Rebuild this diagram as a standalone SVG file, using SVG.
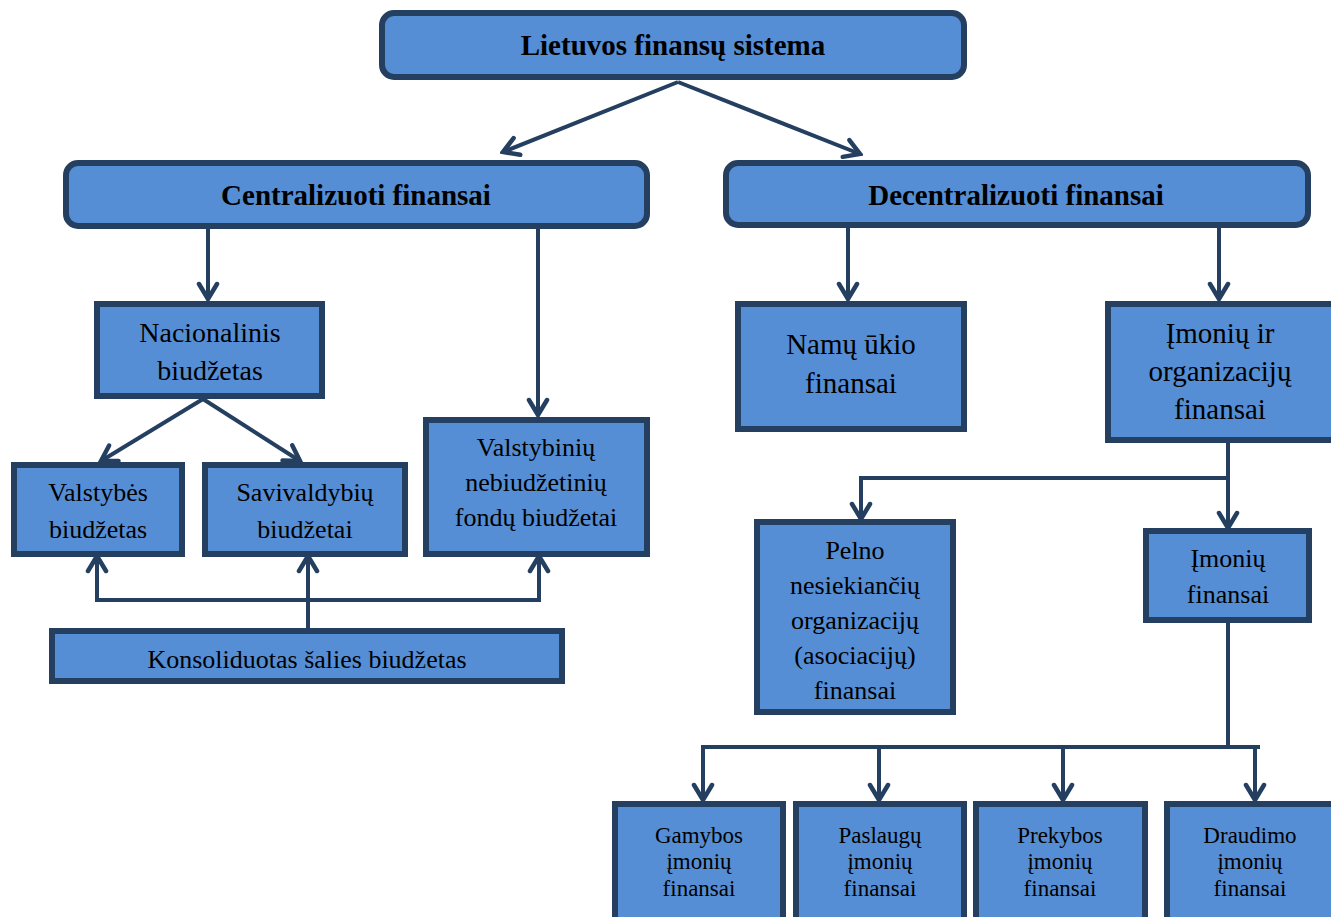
<svg xmlns="http://www.w3.org/2000/svg" width="1331" height="917" viewBox="0 0 1331 917">
<style>
.box{fill:#558ED5;stroke:#243F60;stroke-width:6}
.t{font-family:"Liberation Serif","Times New Roman",serif;fill:#000;text-anchor:middle}
.b{font-weight:bold;font-size:29px}
.c{stroke:#243F60;stroke-width:4;fill:none}
</style>
<defs>
<marker id="ah" viewBox="0 0 24 24" refX="21" refY="12" markerWidth="24" markerHeight="24" markerUnits="userSpaceOnUse" orient="auto">
<path d="M6,3 L21,12 L6,21" fill="none" stroke="#243F60" stroke-width="4.5" stroke-linecap="round" stroke-linejoin="miter"/>
</marker>
</defs>
<rect width="1331" height="917" fill="#fff"/>
<g id="connectors">
<line class="c" x1="678" y1="82" x2="503" y2="152" marker-end="url(#ah)"/>
<line class="c" x1="678" y1="82" x2="860" y2="154" marker-end="url(#ah)"/>
<line class="c" x1="208" y1="229" x2="208" y2="299" marker-end="url(#ah)"/>
<line class="c" x1="538" y1="229" x2="538" y2="415" marker-end="url(#ah)"/>
<line class="c" x1="848" y1="228" x2="848" y2="299" marker-end="url(#ah)"/>
<line class="c" x1="1219" y1="228" x2="1219" y2="299" marker-end="url(#ah)"/>
<line class="c" x1="203" y1="399" x2="101" y2="461" marker-end="url(#ah)"/>
<line class="c" x1="203" y1="399" x2="300" y2="461" marker-end="url(#ah)"/>
<line class="c" x1="95" y1="600" x2="541" y2="600"/>
<line class="c" x1="97" y1="600" x2="97" y2="556" marker-end="url(#ah)"/>
<line class="c" x1="539" y1="600" x2="539" y2="556" marker-end="url(#ah)"/>
<line class="c" x1="308" y1="628" x2="308" y2="556" marker-end="url(#ah)"/>
<line class="c" x1="1228" y1="443" x2="1228" y2="478"/>
<polyline class="c" points="1228,478 861,478 861,519" marker-end="url(#ah)"/>
<line class="c" x1="1228" y1="478" x2="1228" y2="528" marker-end="url(#ah)"/>
<line class="c" x1="1228" y1="623" x2="1228" y2="747"/>
<line class="c" x1="703" y1="747" x2="1260" y2="747"/>
<line class="c" x1="703" y1="745" x2="703" y2="800" marker-end="url(#ah)"/>
<line class="c" x1="879" y1="747" x2="879" y2="800" marker-end="url(#ah)"/>
<line class="c" x1="1063" y1="747" x2="1063" y2="800" marker-end="url(#ah)"/>
<line class="c" x1="1255" y1="747" x2="1255" y2="800" marker-end="url(#ah)"/>
</g>
<g id="n-root">
<rect class="box" x="382" y="13" width="582" height="64" rx="12"/>
<text class="t b" x="673" y="55">Lietuvos finansų sistema</text>
</g>
<g id="n-central">
<rect class="box" x="66" y="163" width="581" height="63" rx="12"/>
<text class="t b" x="356" y="205">Centralizuoti finansai</text>
</g>
<g id="n-decentral">
<rect class="box" x="726" y="163" width="582" height="62" rx="12"/>
<text class="t b" x="1016" y="205">Decentralizuoti finansai</text>
</g>
<g id="n-nacionalinis">
<rect class="box" x="97" y="304" width="225" height="92"/>
<text class="t" font-size="28" x="210" y="342">Nacionalinis</text>
<text class="t" font-size="28" x="210" y="380">biudžetas</text>
</g>
<g id="n-valstybes">
<rect class="box" x="14" y="465" width="168" height="89"/>
<text class="t" font-size="26" x="98" y="501">Valstybės</text>
<text class="t" font-size="26" x="98" y="538">biudžetas</text>
</g>
<g id="n-savivaldybiu">
<rect class="box" x="205" y="465" width="200" height="89"/>
<text class="t" font-size="26" x="305" y="501">Savivaldybių</text>
<text class="t" font-size="26" x="305" y="538">biudžetai</text>
</g>
<g id="n-fondu">
<rect class="box" x="426" y="420" width="221" height="134"/>
<text class="t" font-size="26" x="536" y="456">Valstybinių</text>
<text class="t" font-size="26" x="536" y="491">nebiudžetinių</text>
<text class="t" font-size="26" x="536" y="526">fondų biudžetai</text>
</g>
<g id="n-konsoliduotas">
<rect class="box" x="52" y="631" width="510" height="50"/>
<text class="t" font-size="26" x="307" y="668">Konsoliduotas šalies biudžetas</text>
</g>
<g id="n-namu">
<rect class="box" x="738" y="304" width="226" height="125"/>
<text class="t" font-size="29" x="851" y="354">Namų ūkio</text>
<text class="t" font-size="29" x="851" y="393">finansai</text>
</g>
<g id="n-imoniu-org">
<rect class="box" x="1108" y="304" width="240" height="136"/>
<text class="t" font-size="29" x="1220" y="343">Įmonių ir</text>
<text class="t" font-size="29" x="1220" y="381">organizacijų</text>
<text class="t" font-size="29" x="1220" y="419">finansai</text>
</g>
<g id="n-pelno">
<rect class="box" x="757" y="522" width="196" height="190"/>
<text class="t" font-size="26" x="855" y="559">Pelno</text>
<text class="t" font-size="26" x="855" y="594">nesiekiančių</text>
<text class="t" font-size="26" x="855" y="629">organizacijų</text>
<text class="t" font-size="26" x="855" y="664">(asociacijų)</text>
<text class="t" font-size="26" x="855" y="699">finansai</text>
</g>
<g id="n-imoniu">
<rect class="box" x="1146" y="531" width="163" height="89"/>
<text class="t" font-size="26" x="1228" y="567">Įmonių</text>
<text class="t" font-size="26" x="1228" y="603">finansai</text>
</g>
<g id="n-gamybos">
<rect class="box" x="615" y="804" width="168" height="130"/>
<text class="t" font-size="23" x="699" y="843">Gamybos</text>
<text class="t" font-size="23" x="699" y="869">įmonių</text>
<text class="t" font-size="23" x="699" y="896">finansai</text>
</g>
<g id="n-paslaugu">
<rect class="box" x="796" y="804" width="168" height="130"/>
<text class="t" font-size="23" x="880" y="843">Paslaugų</text>
<text class="t" font-size="23" x="880" y="869">įmonių</text>
<text class="t" font-size="23" x="880" y="896">finansai</text>
</g>
<g id="n-prekybos">
<rect class="box" x="976" y="804" width="169" height="130"/>
<text class="t" font-size="23" x="1060" y="843">Prekybos</text>
<text class="t" font-size="23" x="1060" y="869">įmonių</text>
<text class="t" font-size="23" x="1060" y="896">finansai</text>
</g>
<g id="n-draudimo">
<rect class="box" x="1167" y="804" width="180" height="130"/>
<text class="t" font-size="23" x="1250" y="843">Draudimo</text>
<text class="t" font-size="23" x="1250" y="869">įmonių</text>
<text class="t" font-size="23" x="1250" y="896">finansai</text>
</g>
</svg>
